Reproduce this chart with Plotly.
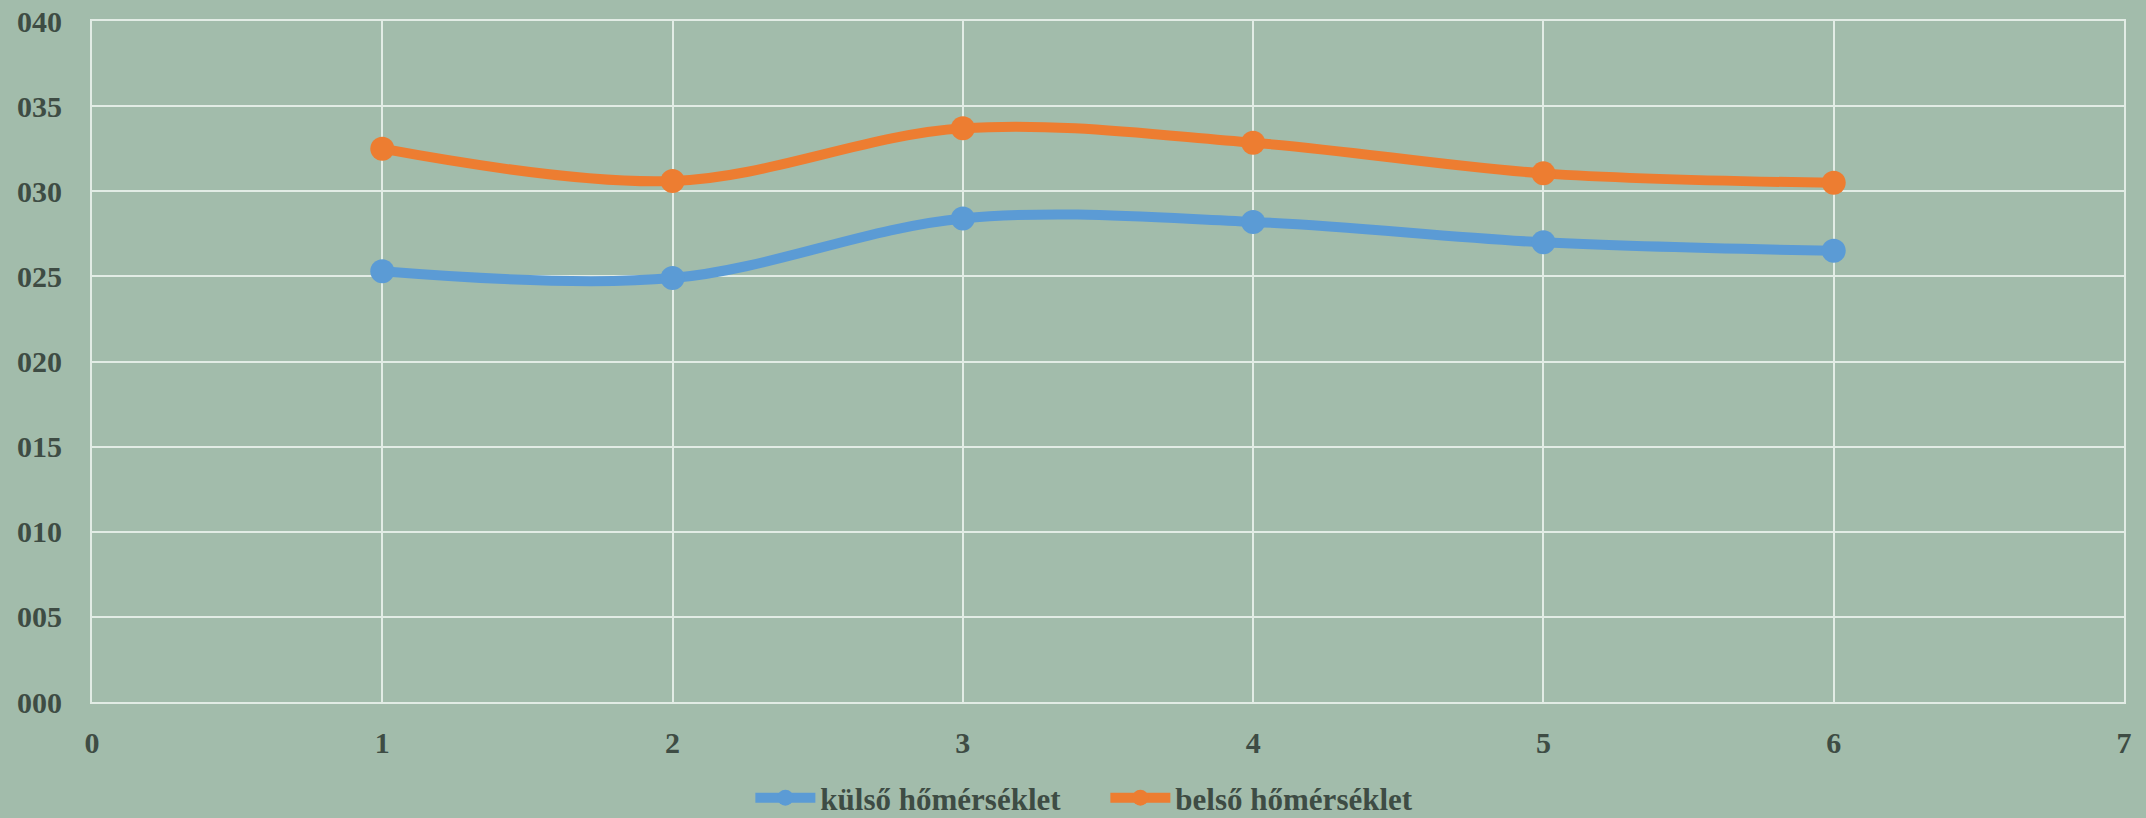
import plotly.graph_objects as go

x_vals = [1, 2, 3, 4, 5, 6]
kulso = [25.3, 24.9, 28.4, 28.2, 27.0, 26.5]
belso = [32.5, 30.6, 33.7, 32.85, 31.05, 30.5]
series_names = ["külső hőmérséklet", "belső hőmérséklet"]
colors = ["#5b9bd5", "#ed7d31"]

BG = "#a2bcab"
GRID = "#e2ece5"
TXT = "#3e4c44"
FONT = "Liberation Serif"

fig = go.Figure()
for name, ys, c in zip(series_names, [kulso, belso], colors):
    fig.add_trace(go.Scatter(
        x=x_vals, y=ys, name=name, mode="lines+markers",
        line=dict(color=c, width=10, shape="spline", smoothing=1),
        marker=dict(color=c, size=24, symbol="circle"),
    ))

fig.update_layout(
    width=2146, height=818,
    margin=dict(l=92, r=22, t=21, b=116, autoexpand=False),
    paper_bgcolor=BG, plot_bgcolor=BG,
    font=dict(family=FONT, color=TXT),
    showlegend=True,
    legend=dict(orientation="h", x=0.324, xanchor="left", y=-0.141, yanchor="middle",
                font=dict(family=FONT, size=31, color=TXT, weight="bold"),
                bgcolor="rgba(0,0,0,0)", itemwidth=60, entrywidth=280, tracegroupgap=0),
)
fig.update_xaxes(
    range=[0, 7], dtick=1, tick0=0, showgrid=True, gridcolor=GRID, gridwidth=2,
    zeroline=False, showline=True, linecolor=GRID, linewidth=2, mirror=True,
    tickfont=dict(family=FONT, size=30, color=TXT, weight="bold"),
    ticks="", ticklabelstandoff=13,
)
fig.update_yaxes(
    range=[0, 40], dtick=5, tick0=0, tickformat="03d", showgrid=True, gridcolor=GRID, gridwidth=2,
    zeroline=False, showline=True, linecolor=GRID, linewidth=2, mirror=True,
    tickfont=dict(family=FONT, size=30, color=TXT, weight="bold"),
    ticks="", ticklabelstandoff=22,
)

fig.write_html("out.html")
